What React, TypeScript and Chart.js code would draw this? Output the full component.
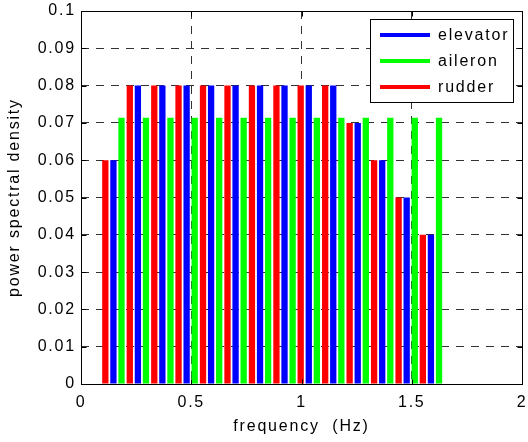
import React, { useEffect, useRef } from 'react';
import { Chart, registerables } from 'chart.js';

Chart.register(...registerables);

// ---- data ----
const frequencies = [0.147, 0.258, 0.369, 0.479, 0.59, 0.701, 0.812, 0.923, 1.033, 1.144, 1.255, 1.366, 1.477, 1.587];
const rudder = [0.06, 0.08, 0.08, 0.08, 0.08, 0.08, 0.08, 0.08, 0.08, 0.08, 0.07, 0.06, 0.05, 0.04];
const elevator = [0.06, 0.08, 0.08, 0.08, 0.08, 0.08, 0.08, 0.08, 0.08, 0.08, 0.07, 0.06, 0.05, 0.04];
const aileron = [0.0714, 0.0714, 0.0714, 0.0714, 0.0714, 0.0714, 0.0714, 0.0714, 0.0714, 0.0714, 0.0714, 0.0714, 0.0714, 0.0714];

const seriesLabels = ['rudder', 'elevator', 'aileron'];
const seriesColors = ['#ff0000', '#0000ff', '#00ff00'];
const legendOrder = ['elevator', 'aileron', 'rudder'];

const xTicks = [0, 0.5, 1, 1.5, 2];
const xTickLabels = ['0', '0.5', '1', '1.5', '2'];
const yTicks = [0, 0.01, 0.02, 0.03, 0.04, 0.05, 0.06, 0.07, 0.08, 0.09, 0.1];
const yTickLabels = ['0', '0.01', '0.02', '0.03', '0.04', '0.05', '0.06', '0.07', '0.08', '0.09', '0.1'];

const xTitle = 'frequency  (Hz)';
const yTitle = 'power spectral density';

const FONT_FAMILY = "'Liberation Sans', Arial, Helvetica, sans-serif";
const FONT_SIZE = 16;
const LETTER_SPACING = '1.8px';

const matlabPlugin = {
  id: 'matlabLook',
  beforeDraw(chart: any) {
    chart.ctx.letterSpacing = LETTER_SPACING;
  },
  afterDraw(chart: any) {
    const ctx = chart.ctx as CanvasRenderingContext2D;
    const { left, right, top, bottom } = chart.chartArea;
    const xs = chart.scales.x;
    const ys = chart.scales.y;
    const L = Math.round(left) + 0.5;
    const R = Math.round(right) + 0.5;
    const T = Math.round(top) + 0.5;
    const B = Math.round(bottom) + 0.5;
    ctx.save();
    ctx.setLineDash([]);
    ctx.strokeStyle = '#000';
    ctx.lineWidth = 1;
    // inward tick marks
    const tl = 5;
    ctx.beginPath();
    xs.ticks.forEach((t: any) => {
      const px = Math.round(xs.getPixelForValue(t.value)) + 0.5;
      ctx.moveTo(px, B);
      ctx.lineTo(px, B - tl);
      ctx.moveTo(px, T);
      ctx.lineTo(px, T + tl);
    });
    ys.ticks.forEach((t: any) => {
      const py = Math.round(ys.getPixelForValue(t.value)) + 0.5;
      ctx.moveTo(L, py);
      ctx.lineTo(L + tl, py);
      ctx.moveTo(R, py);
      ctx.lineTo(R - tl, py);
    });
    ctx.stroke();
    // axes box
    ctx.strokeRect(L, T, R - L, B - T);

    // legend
    const boxW = 143;
    const boxH = 83;
    const boxR = Math.round(right) - 9;
    const boxL = boxR - boxW;
    const boxT = Math.round(top) + 8;
    ctx.fillStyle = '#fff';
    ctx.fillRect(boxL, boxT, boxW, boxH);
    ctx.strokeRect(boxL + 0.5, boxT + 0.5, boxW, boxH);
    ctx.font = `${FONT_SIZE}px ${FONT_FAMILY}`;
    ctx.letterSpacing = LETTER_SPACING;
    ctx.textBaseline = 'middle';
    ctx.textAlign = 'left';
    legendOrder.forEach((lab, i) => {
      const ds = chart.data.datasets.find((d: any) => d.label === lab);
      const y = boxT + 16 + i * 26;
      ctx.strokeStyle = ds.backgroundColor;
      ctx.lineWidth = 4;
      ctx.beginPath();
      ctx.moveTo(boxL + 10, y);
      ctx.lineTo(boxL + 60, y);
      ctx.stroke();
      ctx.fillStyle = '#000';
      ctx.fillText(lab, boxL + 68, y + 1);
    });
    ctx.restore();
  },
};

export default function App() {
  const canvasRef = useRef<HTMLCanvasElement | null>(null);

  useEffect(() => {
    if (!canvasRef.current) return;
    const font = { family: FONT_FAMILY, size: FONT_SIZE };
    const chart = new Chart(canvasRef.current, {
      type: 'bar',
      data: {
        datasets: [rudder, elevator, aileron].map((vals, i) => ({
          label: seriesLabels[i],
          data: frequencies.map((f, j) => ({ x: f, y: vals[j] })),
          backgroundColor: seriesColors[i],
          borderWidth: 0,
          categoryPercentage: 1.0,
          barPercentage: 0.78,
        })),
      },
      options: {
        responsive: false,
        animation: false,
        events: [],
        layout: { padding: { top: 11, right: 6, left: 0, bottom: 0 } },
        plugins: {
          legend: { display: false },
          tooltip: { enabled: false },
        },
        scales: {
          x: {
            type: 'linear',
            min: 0,
            max: 2,
            offset: false,
            afterBuildTicks: (scale: any) => {
              scale.ticks = xTicks.map((v) => ({ value: v }));
            },
            afterFit: (scale: any) => {
              scale.height = 58;
              scale.paddingLeft = 0;
              scale.paddingRight = 0;
            },
            ticks: {
              autoSkip: false,
              maxRotation: 0,
              padding: 9,
              color: '#000',
              font,
              callback: (_v: any, i: number) => xTickLabels[i],
            },
            grid: {
              offset: false,
              color: '#333',
              lineWidth: 1,
              drawTicks: false,
            },
            border: { display: false, dash: [8, 7] },
            title: {
              display: true,
              text: xTitle,
              color: '#000',
              font,
              padding: { top: 0, bottom: 6 },
            },
          },
          y: {
            type: 'linear',
            min: 0,
            max: 0.1,
            afterBuildTicks: (scale: any) => {
              scale.ticks = yTicks.map((v) => ({ value: v }));
            },
            afterFit: (scale: any) => {
              scale.width = 81;
              scale.paddingTop = 0;
              scale.paddingBottom = 0;
            },
            ticks: {
              padding: 5,
              color: '#000',
              font,
              callback: (_v: any, i: number) => yTickLabels[i],
            },
            grid: {
              color: '#333',
              lineWidth: 1,
              drawTicks: false,
            },
            border: { display: false, dash: [8, 7] },
            title: {
              display: true,
              text: yTitle,
              color: '#000',
              font,
              padding: { top: 5, bottom: 0 },
            },
          },
        },
      },
      plugins: [matlabPlugin],
    } as any);
    return () => chart.destroy();
  }, []);

  return (
    <div style={{ position: 'absolute', left: 0, top: 0, width: 528, height: 442, background: '#fff' }}>
      <canvas ref={canvasRef} width={528} height={442} style={{ display: 'block' }} />
    </div>
  );
}
